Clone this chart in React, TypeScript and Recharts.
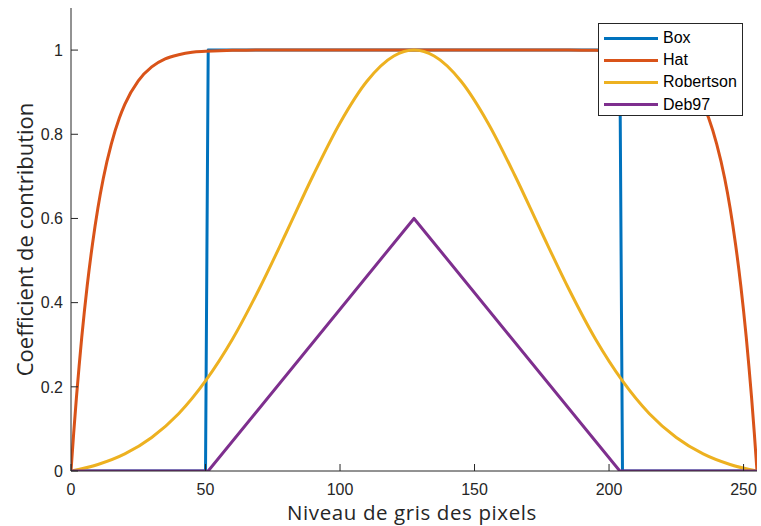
import React from 'react';
import { LineChart, Line, XAxis, YAxis } from 'recharts';

// Weighting curves (x = grey level, y = weight)
const boxX = [0, 50, 51, 204, 205, 255];
const boxY = [0, 0, 1, 1, 0, 0];

const hatX = [0, 1, 2, 3, 4, 5, 6, 8, 10, 12, 15, 18, 20, 25, 30, 35, 40, 45, 50, 60, 70,
  185, 195, 205, 210, 215, 220, 225, 230, 235, 237, 240, 243, 245, 247, 249, 250, 251, 252, 253, 254, 255];
const hatY = [0, 0.09, 0.173, 0.248, 0.318, 0.381, 0.439, 0.54, 0.625, 0.695, 0.777, 0.839, 0.871, 0.927, 0.96, 0.979, 0.989, 0.995, 0.997, 0.9995, 1,
  1, 0.9995, 0.997, 0.995, 0.989, 0.979, 0.96, 0.927, 0.871, 0.839, 0.777, 0.695, 0.625, 0.54, 0.439, 0.381, 0.318, 0.248, 0.173, 0.09, 0];

const robX = [0, 10, 20, 30, 40, 50, 60, 70, 80, 90, 100, 110, 120, 127.5,
  135, 145, 155, 165, 175, 185, 195, 205, 215, 225, 235, 245, 255];
const robY = [0, 0.0155, 0.0406, 0.0796, 0.136, 0.214, 0.313, 0.433, 0.566, 0.702, 0.827, 0.926, 0.986, 1,
  0.986, 0.926, 0.827, 0.702, 0.566, 0.433, 0.313, 0.214, 0.136, 0.0796, 0.0406, 0.0155, 0];

const debX = [0, 51, 127.5, 204, 255];
const debY = [0, 0, 0.6, 0, 0];

const xTicks = [0, 50, 100, 150, 200, 250];
const yTicks = [0, 0.2, 0.4, 0.6, 0.8, 1];

const series = [
  { name: 'Box', color: '#0072BD', xs: boxX, ys: boxY, type: 'linear' },
  { name: 'Hat', color: '#D95319', xs: hatX, ys: hatY, type: 'monotone' },
  { name: 'Robertson', color: '#EDB120', xs: robX, ys: robY, type: 'monotone' },
  { name: 'Deb97', color: '#7E2F8E', xs: debX, ys: debY, type: 'linear' },
];

const AXIS = '#262626';
const TICK_FONT = '"Liberation Sans", Arial, sans-serif';
const LABEL_FONT = '"Open Sans", "Noto Sans", sans-serif';

const toPoints = (xs: number[], ys: number[]) => xs.map((x, i) => ({ x, y: ys[i] }));

// ticks drawn inward, like matlab
const BottomTick = ({ x, y, payload }: any) => (
  <g>
    <line x1={x} x2={x} y1={y} y2={y - 7} stroke={AXIS} strokeWidth={1} />
    <text x={x} y={y + 24} textAnchor="middle" fill={AXIS} fontSize={16} fontFamily={TICK_FONT}>
      {payload.value}
    </text>
  </g>
);

const TopTick = ({ x, y }: any) => (
  <line x1={x} x2={x} y1={y} y2={y + 7} stroke={AXIS} strokeWidth={1} />
);

const LeftTick = ({ x, y, payload }: any) => (
  <g>
    <line x1={x} x2={x + 7} y1={y} y2={y} stroke={AXIS} strokeWidth={1} />
    <text x={x - 8} y={y} dy="0.36em" textAnchor="end" fill={AXIS} fontSize={16} fontFamily={TICK_FONT}>
      {payload.value}
    </text>
  </g>
);

const RightTick = ({ x, y }: any) => (
  <line x1={x} x2={x - 7} y1={y} y2={y} stroke={AXIS} strokeWidth={1} />
);

const XLabel = ({ viewBox }: any) => (
  <text
    x={viewBox.x + viewBox.width / 2 - 2}
    y={viewBox.y + 48.5}
    textAnchor="middle"
    fill={AXIS}
    fontSize={20.5}
    letterSpacing={0.6}
    fontFamily={LABEL_FONT}
  >
    Niveau de gris des pixels
  </text>
);

const YLabel = ({ viewBox }: any) => {
  const cx = 24;
  const cy = viewBox.y + viewBox.height / 2;
  return (
    <text
      x={cx}
      y={cy}
      transform={`rotate(-90, ${cx}, ${cy})`}
      textAnchor="middle"
      dominantBaseline="central"
      fill={AXIS}
      fontSize={22}
      fontFamily={LABEL_FONT}
    >
      Coefficient de contribution
    </text>
  );
};

export default function App() {
  return (
    <div style={{ position: 'absolute', left: 0, top: 0, width: 761, height: 526, background: '#fff' }}>
      <LineChart width={761} height={526} margin={{ top: 8, right: 4, bottom: 0, left: 0 }}>
        <XAxis
          dataKey="x"
          type="number"
          domain={[0, 255]}
          ticks={xTicks}
          interval={0}
          allowDataOverflow
          height={55}
          tickSize={0}
          tickMargin={0}
          tickLine={false}
          axisLine={{ stroke: AXIS, strokeWidth: 1 }}
          tick={<BottomTick />}
          label={<XLabel />}
        />
        <XAxis
          xAxisId="top"
          orientation="top"
          dataKey="x"
          type="number"
          domain={[0, 255]}
          ticks={xTicks}
          interval={0}
          allowDataOverflow
          height={0}
          tickSize={0}
          tickMargin={0}
          tickLine={false}
          axisLine={{ stroke: AXIS, strokeWidth: 1 }}
          tick={<TopTick />}
        />
        <YAxis
          type="number"
          domain={[0, 1.1]}
          ticks={yTicks}
          interval={0}
          allowDataOverflow
          width={71}
          tickSize={0}
          tickMargin={0}
          tickLine={false}
          axisLine={{ stroke: AXIS, strokeWidth: 1 }}
          tick={<LeftTick />}
          label={<YLabel />}
        />
        <YAxis
          yAxisId="right"
          orientation="right"
          type="number"
          domain={[0, 1.1]}
          ticks={yTicks}
          interval={0}
          allowDataOverflow
          width={0}
          tickSize={0}
          tickMargin={0}
          tickLine={false}
          axisLine={{ stroke: AXIS, strokeWidth: 1 }}
          tick={<RightTick />}
        />
        {series.map((s) => (
          <Line
            key={s.name}
            data={toPoints(s.xs, s.ys)}
            dataKey="y"
            name={s.name}
            type={s.type as any}
            stroke={s.color}
            strokeWidth={3}
            strokeLinejoin="round"
            dot={false}
            activeDot={false}
            isAnimationActive={false}
          />
        ))}
      </LineChart>

      <div
        style={{
          position: 'absolute',
          left: 598,
          top: 23,
          width: 145,
          height: 93,
          border: `1px solid ${AXIS}`,
          background: '#fff',
          boxSizing: 'border-box',
          paddingTop: 3,
        }}
      >
        {series.map((s) => (
          <div key={s.name} style={{ display: 'flex', alignItems: 'center', height: 22.2 }}>
            <div style={{ marginLeft: 5, width: 54, height: 3, background: s.color }} />
            <span style={{ marginLeft: 5, fontFamily: TICK_FONT, fontSize: 16, color: '#000' }}>{s.name}</span>
          </div>
        ))}
      </div>
    </div>
  );
}
